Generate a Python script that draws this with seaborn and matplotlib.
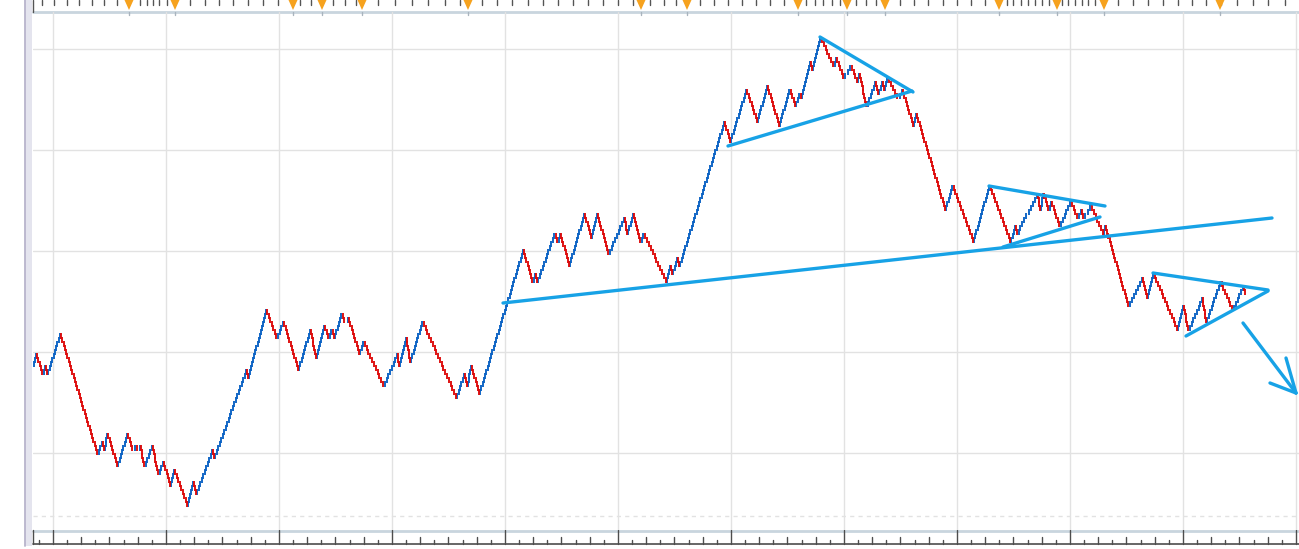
import numpy as np
import pandas as pd
import matplotlib
matplotlib.use("Agg")
import matplotlib.pyplot as plt
import seaborn as sns

# ---------------- data ----------------
# Renko swing pivots: time position and price level of each reversal
pivot_x = [33, 36, 42, 45, 47, 60, 97, 102, 104, 107, 117, 127, 132, 135, 137, 140, 144,
           152, 158, 163, 170, 174, 187, 193, 196, 212, 214, 246, 248, 266, 276, 283, 298,
           310, 316, 324, 328, 331, 334, 341, 344, 348, 359, 363, 383, 397, 399, 406, 410,
           422, 456, 464, 467, 471, 479, 523, 532, 535, 537, 554, 557, 560, 569, 584, 591,
           597, 608, 624, 627, 633, 640, 643, 666, 670, 672, 677, 679, 724, 730, 746, 757,
           767, 779, 789, 795, 799, 801, 810, 812, 820, 833, 836, 843, 850, 857, 859, 866,
           875, 878, 882, 884, 887, 897, 902, 913, 916, 945, 952, 973, 989, 1010, 1015,
           1017, 1020, 1037, 1040, 1043, 1048, 1051, 1059, 1070, 1077, 1081, 1083, 1090,
           1103, 1105, 1128, 1142, 1147, 1153, 1177, 1183, 1188, 1202, 1206, 1220, 1232,
           1243, 1245]
pivot_price = [165, 177, 157, 164, 156, 197, 76, 90, 82, 97, 62, 97, 80, 85, 78, 84, 63,
               84, 57, 67, 45, 59, 26, 47, 37, 78, 72, 160, 154, 221, 190, 209, 161,
               198, 173, 205, 190, 202, 193, 218, 206, 212, 174, 189, 145, 177, 165, 190, 169,
               209, 133, 155, 142, 164, 137, 278, 247, 257, 249, 298, 287, 295, 263, 315, 291,
               315, 275, 313, 298, 315, 287, 298, 247, 262, 256, 270, 264, 409, 388, 441, 407,
               445, 403, 441, 423, 437, 430, 467, 460, 493, 462, 470, 453, 465, 448, 454, 424,
               448, 437, 450, 442, 452, 430, 440, 403, 417, 320, 343, 287, 343, 287, 303,
               296, 304, 335, 322, 335, 320, 327, 303, 328, 310, 320, 310, 325,
               295, 303, 222, 253, 233, 257, 198, 222, 198, 230, 210, 247, 220,
               245, 237]
brick_size = 4.0

# hand-drawn trend lines (x0, p0, x1, p1)
trend_x0 = [503, 728, 820, 989, 1003, 1153, 1186, 1243, 1286, 1270]
trend_p0 = [227, 384, 493, 344, 283, 257, 194, 207, 172, 147]
trend_x1 = [1272, 912, 913, 1105, 1100, 1268, 1268, 1296, 1296, 1296]
trend_p1 = [312, 439, 438, 324, 313, 240, 239, 137, 137, 137]

# time-axis event markers (orange flags) and top tick marks
event_x = [129, 175, 293, 322, 362, 468, 641, 687, 798, 847, 885, 999, 1057, 1104, 1220]
top_ticks = [42, 54, 67, 79, 92, 104, 117, 129, 140, 147, 153, 159, 167, 175, 190, 205,
             219, 233, 248, 263, 278, 293, 300, 311, 322, 333, 345, 356, 362, 378, 395,
             412, 428, 445, 460, 468, 482, 497, 512, 528, 543, 558, 573, 588, 603, 618,
             633, 641, 650, 664, 676, 687, 700, 714, 728, 742, 756, 770, 784, 798, 806,
             815, 823, 832, 840, 847, 856, 866, 876, 885, 900, 914, 928, 943, 957, 971,
             985, 999, 1007, 1013, 1021, 1028, 1035, 1042, 1049, 1057, 1062, 1068, 1075,
             1082, 1088, 1095, 1104, 1118, 1133, 1148, 1163, 1178, 1192, 1206, 1221, 1237,
             1253, 1268, 1285]

# ---------------- build renko bricks from the swing pivots ----------------
levels = np.round(np.array(pivot_price) / brick_size).astype(int)
bx, b0, b1, bup = [], [], [], []
for i in range(len(levels) - 1):
    n = levels[i + 1] - levels[i]
    if n == 0:
        continue
    step = 1 if n > 0 else -1
    xs = np.linspace(pivot_x[i], pivot_x[i + 1], abs(n) + 1)[1:]
    for k in range(abs(n)):
        lo = levels[i] + k * step
        bx.append(xs[k])
        b0.append(lo * brick_size)
        b1.append((lo + step) * brick_size)
        bup.append(step > 0)
bricks = pd.DataFrame({"x": bx, "p0": b0, "p1": b1, "up": bup})

# ---------------- figure ----------------
W, H = 1299, 549
sns.set_theme(style="white")
fig = plt.figure(figsize=(W / 100, H / 100), dpi=100)
fig.patch.set_facecolor("white")

# background / decoration axes in pixel coordinates
bg = fig.add_axes([0, 0, 1, 1])
bg.set_xlim(0, W)
bg.set_ylim(H, 0)
bg.axis("off")

# left strip
bg.add_patch(plt.Rectangle((25, 0), 7, 546, facecolor="#E4E4EE", edgecolor="none"))
bg.plot([25.5, 25.5], [0, 546], color="#B8B4CC", lw=1.3)

# plot area axes (x in pixel-time, y in price units = 530 - row)
L, R, T, B = 33, 1299, 12, 530
ax = fig.add_axes([L / W, (H - B) / H, (R - L) / W, (B - T) / H])
ax.set_xlim(L, R)
ax.set_ylim(0, B - T)
ax.set_facecolor("none")
for s in ax.spines.values():
    s.set_visible(False)
ax.set_xticks([])
ax.set_yticks([])

grid_c = "#E2E2E2"
for gx in np.arange(53, 1300, 113.0):
    ax.axvline(gx, color=grid_c, lw=1.0, zorder=0)
for gy in [49, 150, 251, 352, 453]:
    ax.axhline(B - gy, color=grid_c, lw=1.0, zorder=0)
ax.axhline(B - 516, color=grid_c, lw=1.0, ls=(0, (3, 3)), zorder=0)

# bricks
blue, red = "#0A62C4", "#DD0A0A"
upb = bricks[bricks.up]
dnb = bricks[~bricks.up]
pad = 0.8
ax.vlines(upb.x, upb.p0 - pad, upb.p1 + pad, color=blue, lw=1.35, zorder=2)
ax.vlines(dnb.x, dnb.p0 + pad, dnb.p1 - pad, color=red, lw=1.35, zorder=2)

# trend lines
rows = []
for i in range(len(trend_x0)):
    rows.append({"seg": i, "x": trend_x0[i], "p": trend_p0[i]})
    rows.append({"seg": i, "x": trend_x1[i], "p": trend_p1[i]})
tl = pd.DataFrame(rows)
sns.lineplot(data=tl, x="x", y="p", units="seg", estimator=None, sort=False,
             color="#17A2E6", lw=2.4, ax=ax, zorder=3, solid_capstyle="round")
ax.set_xlabel("")
ax.set_ylabel("")

# top time strip
bg.plot([L, W], [12, 12], color="#C9D5DE", lw=2.0)
bg.plot([L, L], [0, 12], color="#555555", lw=1.0)
for t in top_ticks:
    bg.plot([t, t], [0, 5], color="#555555", lw=1.0)
for e in event_x:
    bg.add_patch(plt.Polygon([[e - 4.5, 0], [e + 4.5, 0], [e, 10]], closed=True,
                             facecolor="#F6A21E", edgecolor="none", zorder=5))
    bg.plot([e, e], [12, 15], color="#A9B4BE", lw=1.0)

# bottom time strip
bg.plot([L, W], [530.5, 530.5], color="#C9D5DE", lw=2.0)
bg.plot([L, W], [543.5, 543.5], color="#4D4D4D", lw=1.2)
bg.plot([L, L], [530, 543.5], color="#4D4D4D", lw=1.0)
majors = np.arange(53, 1300, 113.0)
for m in majors:
    bg.plot([m, m], [530, 543.5], color="#4D4D4D", lw=1.0)
for m in np.concatenate([[53 - 113.0], majors]):
    for k in range(1, 8):
        xx = m + k * 113.0 / 8
        if xx <= L or xx >= W:
            continue
        h = 7 if k % 2 == 0 else 3.5
        bg.plot([xx, xx], [543.5 - h, 543.5], color="#4D4D4D", lw=1.0)

fig.savefig("out.png", dpi=100, facecolor="white")
